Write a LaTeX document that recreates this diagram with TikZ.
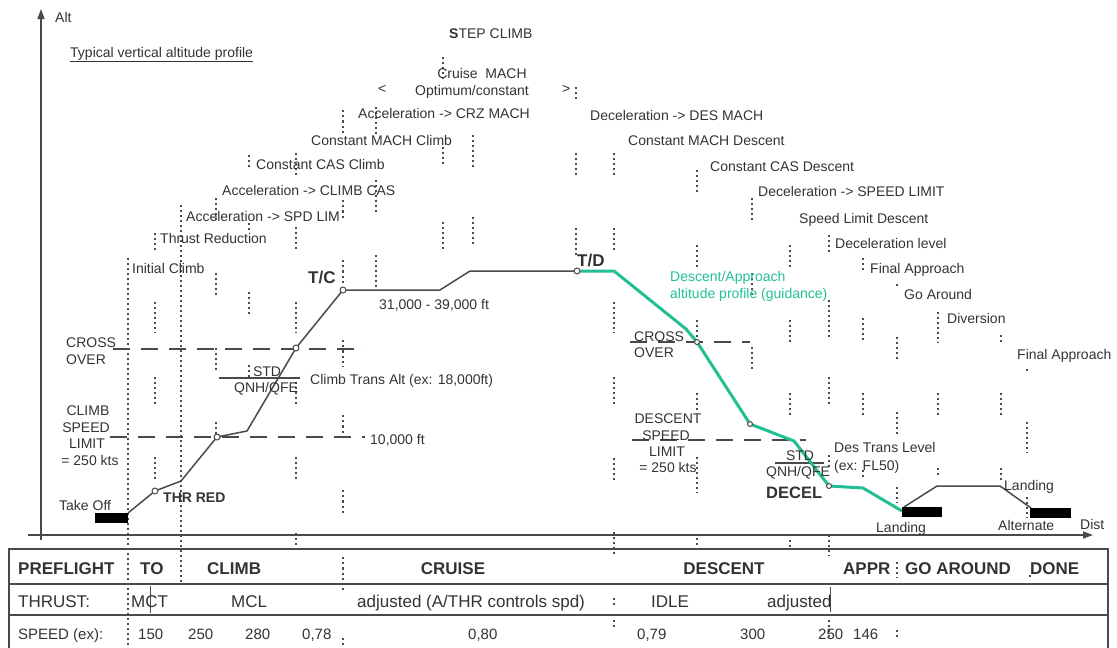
\documentclass[tikz,border=0pt]{standalone}
\usepackage{fontspec}
\setmainfont{Liberation Sans}
\usetikzlibrary{arrows.meta}
\definecolor{txt}{HTML}{333333}
\definecolor{ln}{HTML}{4A4A4A}
\definecolor{grn}{HTML}{22BF95}
\tikzset{
 lbl/.style={anchor=west,inner sep=0pt,text=txt,font=\fontsize{14}{16}\selectfont,text height=10pt,text depth=0pt},
 lblc/.style={lbl,anchor=center},
 bld/.style={lbl,font=\fontsize{17}{19}\selectfont\bfseries,text height=12.2pt},
 bldsm/.style={lbl,font=\fontsize{14}{16}\selectfont\bfseries},
 hdr/.style={lbl,font=\fontsize{17}{19}\selectfont\bfseries,text height=12.2pt},
 rowtx/.style={lbl,font=\fontsize{17}{19}\selectfont,text height=12.2pt},
 rowsm/.style={lbl,font=\fontsize{15}{17}\selectfont,text height=10.8pt},
 vdot/.style={draw=ln,line width=1.5pt,dash pattern=on 1.5pt off 3.5pt},
 vdotb/.style={draw=ln,line width=2.2pt,dash pattern=on 2.2pt off 3pt},
 dsh/.style={draw=ln,line width=1.6pt,dash pattern=on 17pt off 11pt},
 prof/.style={draw=ln,line width=1.5pt,line join=round},
 gprof/.style={draw=grn,line width=3pt,line join=round},
 knot/.style={circle,draw=ln,fill=white,line width=1pt,inner sep=0pt,minimum size=6pt},
 blk/.style={fill=black},
 axis/.style={draw=ln,line width=1.3pt,-{Triangle[length=10pt,width=7pt]}},
 tbl/.style={draw=ln,line width=1.8pt},
}
\begin{document}
\begin{tikzpicture}[x=1pt,y=-1pt]
\useasboundingbox (0,0) rectangle (1117,648);

% dotted verticals
\foreach \x/\a/\b in {128/258/648,
 155/233/252,155/302/333,155/377/407,155/457/480,
 181/205/585,
 216/198/223,216/273/298,216/348/372,216/422/437,
 249/155/168,249/223/230,249/292/315,249/365/378,
 296/153/178,296/227/252,296/302/333,296/377/407,296/457/480,296/533/550,
 376/107/137,376/180/213,376/255/287,
 443/57/82,443/147/165,443/222/250,
 473/135/167,473/217/247,
 576/87/102,576/153/177,576/228/257,
 614/153/177,614/228/253,614/302/333,614/377/407,614/458/482,614/532/556,614/598/606,614/620/628,
 697/170/195,697/245/270,697/320/343,697/393/413,697/457/493,697/538/550,
 752/198/223,752/273/297,752/347/372,
 790/245/270,790/320/343,790/393/417,790/540/550,
 829/235/252,829/300/340,829/377/407,829/455/470,829/535/556,829/620/640,
 863/258/270,863/318/343,863/393/417,863/470/480,
 897/284/288,897/337/362,897/412/435,897/487/503,897/562/578,897/630/640,
 938/312/343,938/393/418,938/468/478,
 1001/335/343,1001/393/418,1001/468/480,
 1027/369/373,1027/422/453,1027/497/518,1030/575/579}
 \draw[vdot] (\x,\a) -- (\x,\b);
\foreach \a/\b in {110/135,200/218,260/283,340/367,415/440,490/515,557/592,638/648}
 \draw[vdotb] (343,\a) -- (343,\b);

% axes
\coordinate (yb) at (41,540); \coordinate (yt) at (41,9);
\coordinate (xb) at (28,535); \coordinate (xt) at (1093,535);
\draw[axis] (yb) -- (yt);
\draw[axis] (xb) -- (xt);
\node[lbl] (alt) at (55,17) {Alt};
\node[lbl] (dist) at (1080,524) {Dist};
\node[lbl] (title) at (70,52) {\underline{Typical vertical altitude profile}};

% dashed reference levels
\draw[dsh] (113,349) -- (365,349);
\draw[dsh] (110,437) -- (365,437);
\draw[dsh] (630,342) -- (750,342);
\draw[dsh] (632,440) -- (806,440);
% transition bars
\draw[draw=ln,line width=1.6pt] (219,378) -- (300,378);
\draw[draw=ln,line width=1.6pt] (775,463) -- (824,463);

% profile points
\coordinate (p0) at (128,513);
\coordinate (p1) at (155,491);
\coordinate (p2) at (181,481);
\coordinate (p3) at (217,437);
\coordinate (p4) at (247,431);
\coordinate (p5) at (296,348);
\coordinate (p6) at (343,290);
\coordinate (p7) at (440,290);
\coordinate (p8) at (470,271);
\coordinate (p9) at (577,271);
\coordinate (g1) at (614,271);
\coordinate (g2) at (686,329);
\coordinate (g3) at (697,342);
\coordinate (g4) at (750,424);
\coordinate (g5) at (794,441);
\coordinate (g6) at (829,486);
\coordinate (g7) at (863,488);
\coordinate (g8) at (902,511);
\coordinate (a1) at (904,507);
\coordinate (a2) at (937,486);
\coordinate (a3) at (1000,486);
\coordinate (a4) at (1031,508);

\draw[prof] (p0) -- (p1) -- (p2) -- (p3) -- (p4) -- (p5) -- (p6) -- (p7) -- (p8) -- (p9);
\draw[gprof] (p9) -- (g1) -- (g2) -- (g3) -- (g4) -- (g5) -- (g6) -- (g7) -- (g8);
\draw[prof] (a1) -- (a2) -- (a3) -- (a4);

% runway blocks
\fill[blk] (95,513) rectangle (128,523);
\fill[blk] (902,507) rectangle (942,517);
\fill[blk] (1030,508) rectangle (1071,518);

% knots
\foreach \p/\n in {p1/k1,p3/k3,p5/k5,p6/k6,p9/k9}
 \node[knot] (\n) at (\p) {};
\foreach \p/\n in {g3/kg3,g4/kg4,g6/kg6}
 \node[knot,minimum size=5pt] (\n) at (\p) {};

% phase labels
\node[lbl] (step) at (449,33) {\textbf{S}TEP CLIMB};
\node[lblc] (cm) at (482,73) {Cruise\ \ MACH};
\node[lblc] (oc) at (472,90) {Optimum/constant};
\node[lbl] (lt) at (378,88) {<};
\node[lbl] (gt) at (562,88) {>};
\node[lbl] (acz) at (358,113) {Acceleration -> CRZ MACH};
\node[lbl] (ddm) at (590,115) {Deceleration -> DES MACH};
\node[lbl] (cmc) at (311,140) {Constant MACH Climb};
\node[lbl] (cmd) at (628,140) {Constant MACH Descent};
\node[lbl] (ccc) at (256,164) {Constant CAS Climb};
\node[lbl] (ccd) at (710,166) {Constant CAS Descent};
\node[lbl] (acc) at (222,190) {Acceleration -> CLIMB CAS};
\node[lbl] (dsl) at (758,191) {Deceleration -> SPEED LIMIT};
\node[lbl] (asl) at (186,216) {Acceleration -> SPD LIM};
\node[lbl] (sld) at (799,218) {Speed Limit Descent};
\node[lbl] (thr) at (160,238) {Thrust Reduction};
\node[lbl] (dlv) at (835,243) {Deceleration level};
\node[lbl] (ic) at (132,268) {Initial Climb};
\node[lbl] (fa1) at (870,268) {Final Approach};
\node[lbl] (ga) at (904,294) {Go Around};
\node[lbl] (div) at (947,318) {Diversion};
\node[lbl] (fa2) at (1017,354) {Final Approach};

% profile labels
\node[bld] (tc) at (308,277) {T/C};
\node[bld] (td) at (577,260) {T/D};
\node[lbl] (cru) at (379,304) {31,000 - 39,000 ft};
\node[lbl,text=grn] (dap1) at (670,276) {Descent/Approach};
\node[lbl,text=grn] (dap2) at (670,293) {altitude profile (guidance)};
\node[lbl] (co1) at (66,342) {CROSS};
\node[lbl] (co2) at (66,359) {OVER};
\node[lblc] (cs1) at (88,410) {CLIMB};
\node[lblc] (cs2) at (86,427) {SPEED};
\node[lblc] (cs3) at (87,443) {LIMIT};
\node[lblc] (cs4) at (90,460) {= 250 kts};
\node[lblc] (std1) at (267,371) {STD};
\node[lblc] (qnh1) at (266,387) {QNH/QFE};
\node[lbl] (cta) at (310,379) {Climb Trans Alt (ex: 18,000ft)};
\node[lbl] (tenk) at (370,439) {10,000 ft};
\node[lbl] (tko) at (59,505) {Take Off};
\node[bldsm] (thrr) at (163,497) {THR RED};
\node[lbl] (dco1) at (634,336) {CROSS};
\node[lbl] (dco2) at (634,352) {OVER};
\node[lblc] (ds1) at (668,418) {DESCENT};
\node[lblc] (ds2) at (666,435) {SPEED};
\node[lblc] (ds3) at (667,451) {LIMIT};
\node[lblc] (ds4) at (668,467) {= 250 kts};
\node[lblc] (std2) at (800,455) {STD};
\node[lblc] (qnh2) at (798,471) {QNH/QFE};
\node[lbl,font=\fontsize{16.5}{18}\selectfont\bfseries,text height=11.8pt] (decel) at (766,493) {DECEL};
\node[lbl] (dtl1) at (834,447) {Des Trans Level};
\node[lbl] (dtl2) at (834,465) {(ex: FL50)};
\node[lbl] (lnd1) at (876,527) {Landing};
\node[lbl] (lnd2) at (1004,485) {Landing};
\node[lbl] (altn) at (998,525) {Alternate};

% table
\draw[tbl] (9,648) -- (9,549) -- (1108,549) -- (1108,648);
\draw[draw=ln,line width=1.5pt] (9,584) -- (1108,584);
\draw[draw=ln,line width=1.5pt] (9,615) -- (1108,615);
\draw[draw=ln,line width=0.9pt] (150,586) -- (150,613);
\draw[draw=ln,line width=0.9pt] (830,587) -- (830,612);

\node[hdr] (h1) at (18,568) {PREFLIGHT};
\node[hdr] (h2) at (140,568) {TO};
\node[hdr] (h3) at (207,568) {CLIMB};
\node[hdr,anchor=center] (h4) at (453,568) {CRUISE};
\node[hdr,anchor=center] (h5) at (724,568) {DESCENT};
\node[hdr] (h6) at (843,568) {APPR};
\node[hdr] (h7) at (905,568) {GO AROUND};
\node[hdr] (h8) at (1030,568) {DONE};

\node[rowtx] (r1) at (18,601) {THRUST:};
\node[rowtx] (r2) at (131,601) {MCT};
\node[rowtx] (r3) at (231,601) {MCL};
\node[rowtx] (r4) at (357,601) {adjusted (A/THR controls spd)};
\node[rowtx] (r5) at (651,601) {IDLE};
\node[rowtx] (r6) at (767,601) {adjusted};

\node[rowsm] (s0) at (18,634) {SPEED (ex):};
\node[rowsm] (s1) at (138,634) {150};
\node[rowsm] (s2) at (188,634) {250};
\node[rowsm] (s3) at (245,634) {280};
\node[rowsm] (s4) at (302,634) {0,78};
\node[rowsm] (s5) at (468,634) {0,80};
\node[rowsm] (s6) at (637,634) {0,79};
\node[rowsm] (s7) at (740,634) {300};
\node[rowsm] (s8) at (818,634) {250};
\node[rowsm] (s9) at (853,634) {146};
\end{tikzpicture}
\end{document}
